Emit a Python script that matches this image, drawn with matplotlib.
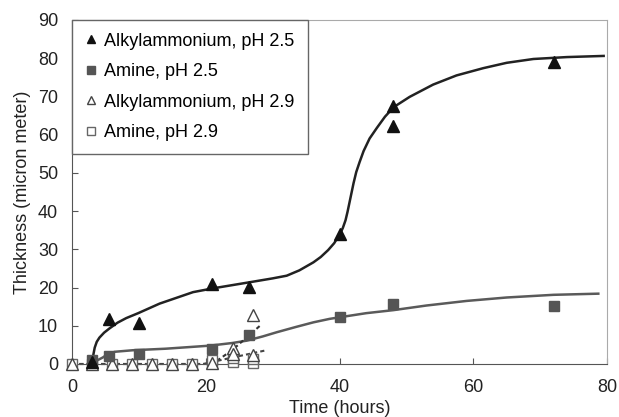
import matplotlib
matplotlib.use("Agg")
import matplotlib.pyplot as plt

plt.rcParams['font.family'] = ['Liberation Sans', 'DejaVu Sans']

# measured points
alkyl25_t = [3, 5.5, 10, 21, 26.5, 40, 48, 48, 72]
alkyl25_y = [0.5, 11.9, 10.8, 20.8, 20.2, 34.1, 67.6, 62.3, 79.0]
amine25_t = [3, 5.5, 10, 21, 26.5, 40, 48, 72]
amine25_y = [1.1, 2.0, 2.6, 3.8, 7.5, 12.3, 15.8, 15.3]
alkyl29_t = [0, 3, 6, 9, 12, 15, 18, 21, 24, 24, 27, 27]
alkyl29_y = [0, 0, 0, 0, 0, 0, 0, 0.3, 4.3, 2.6, 12.8, 2.3]
amine29_t = [0, 3, 6, 9, 12, 15, 18, 21, 21, 24, 24, 27, 27]
amine29_y = [0, 0, 0, 0, 0, 0, 0, 0.2, 1.0, 0.5, 1.5, 0.3, 1.2]

# fitted curves
alkyl25_fit_t = [3.1, 3.2, 3.4, 3.7, 4.1, 4.8, 5.6, 6.8, 8.1, 9.9, 13.1, 18.1, 21.1,
                 26.6, 30.0, 32.1, 34.0, 36.1, 37.2, 38.3, 39.2, 40.1, 40.5, 40.9,
                 41.2, 41.5, 41.8, 42.1, 42.5, 43.0, 43.6, 44.5, 45.6, 46.8, 48.1,
                 50.5, 54.0, 57.5, 61.5, 65.0, 69.0, 74.0, 79.5]
alkyl25_fit_y = [0.4, 2.5, 4.3, 5.8, 6.9, 8.2, 9.3, 10.8, 12.0, 13.3, 15.8, 18.8, 19.8,
                 21.4, 22.4, 23.1, 24.5, 26.6, 28.0, 29.8, 31.6, 34.1, 35.6, 37.6,
                 39.8, 42.3, 44.8, 47.3, 50.2, 52.8, 55.7, 59.0, 61.8, 64.7, 67.2,
                 69.9, 73.1, 75.5, 77.4, 78.8, 79.8, 80.3, 80.6]
amine25_fit_t = [3.1, 3.6, 4.6, 5.1, 6.4, 9.1, 14.0, 20.6, 24.0, 26.1, 28.5, 30.6,
                 33.5, 36.1, 38.5, 40.3, 44.0, 48.1, 53.0, 59.0, 65.0, 72.0, 78.7]
amine25_fit_y = [0.2, 0.8, 1.7, 2.3, 3.2, 3.6, 4.0, 4.8, 5.5, 6.1, 7.2, 8.3,
                 9.7, 10.9, 11.8, 12.3, 13.3, 14.1, 15.3, 16.5, 17.4, 18.1, 18.4]
alkyl29_fit_t = [0, 21.0, 24.0, 28.3]
alkyl29_fit_y = [0, 0, 3.7, 10.3]
amine29_fit_t = [0, 19.6, 24.0, 28.8]
amine29_fit_y = [0, 0, 1.7, 3.5]

fig = plt.figure(figsize=(6.19, 4.17), dpi=100)
ax = fig.add_axes([72 / 619, 1 - 364 / 417, 535 / 619, 344 / 417])

ax.plot(alkyl25_fit_t, alkyl25_fit_y, color='#222222', lw=1.8, solid_joinstyle='round')
ax.plot(amine25_fit_t, amine25_fit_y, color='#5a5a5a', lw=1.8, solid_joinstyle='round')
ax.plot(alkyl29_fit_t, alkyl29_fit_y, color='#333333', lw=1.5, ls=(0, (2, 1.5)), clip_on=False)
ax.plot(amine29_fit_t, amine29_fit_y, color='#444444', lw=1.5, ls=(0, (2, 1.5)), clip_on=False)

ax.plot(amine29_t, amine29_y, 's', ms=7, mfc='white', mec='#666666', mew=1,
        label='Amine, pH 2.9', zorder=3, clip_on=False)
ax.plot(alkyl29_t, alkyl29_y, '^', ms=8, mfc='white', mec='#444444', mew=1,
        label='Alkylammonium, pH 2.9', zorder=3, clip_on=False)
ax.plot(amine25_t, amine25_y, 's', ms=7, color='#555555', label='Amine, pH 2.5',
        zorder=4, clip_on=False)
ax.plot(alkyl25_t, alkyl25_y, '^', ms=8, color='#111111', label='Alkylammonium, pH 2.5',
        zorder=4, clip_on=False)

ax.set_xlim(0, 80)
ax.set_ylim(0, 90)
ax.set_xticks([0, 20, 40, 60, 80])
ax.set_yticks(range(0, 91, 10))
ax.tick_params(direction='in', length=4, labelsize=13, colors='#555555', labelcolor='#222222')
ax.tick_params(axis='x', pad=11)
ax.tick_params(axis='y', pad=10)
ax.set_xlabel('Time (hours)', fontsize=13, color='#222222', labelpad=3)
ax.set_ylabel('Thickness (micron meter)', fontsize=13, color='#222222', labelpad=5)

for side in ['left', 'bottom']:
    ax.spines[side].set_color('#555555')
for side in ['top', 'right']:
    ax.spines[side].set_color('#aaaaaa')

handles, labels = ax.get_legend_handles_labels()
order = [3, 2, 1, 0]
leg = ax.legend([handles[i] for i in order], [labels[i] for i in order],
                loc='upper left', borderaxespad=0, fancybox=False, fontsize=13,
                handlelength=0.7, handletextpad=0.4, markerscale=0.8,
                labelspacing=0.75, borderpad=0.7, framealpha=1)
leg.get_frame().set_edgecolor('#666666')
leg.get_frame().set_linewidth(1)

fig.savefig('out.png', dpi=100)
